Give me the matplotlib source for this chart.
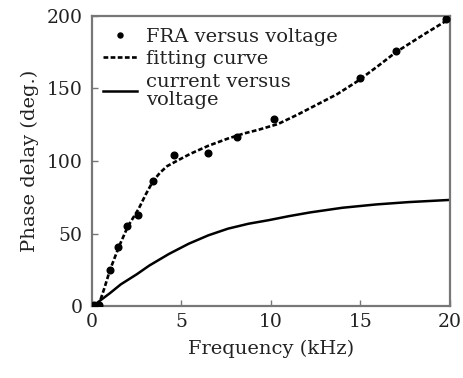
import numpy as np
import matplotlib
matplotlib.use('Agg')
import matplotlib.pyplot as plt

# measured points (FRA versus voltage)
fra_freq = [0.1, 0.4, 1.0, 1.45, 1.95, 2.58, 3.42, 4.6, 6.5, 8.1, 10.2, 15.0, 17.0, 19.8]
fra_phase = [0.5, 0.5, 24.7, 41.0, 55.5, 63.0, 86.4, 104.3, 105.6, 116.4, 129.2, 157.5, 176.0, 198.0]

# fitting curve
fit_freq = [0.35, 0.7, 1.0, 1.5, 2.0, 2.6, 3.0, 3.4, 3.8, 4.2, 4.8, 5.5, 6.5, 7.6, 8.5,
            9.3, 10.4, 11.5, 12.6, 13.7, 14.85, 16.0, 17.0, 18.6, 20.0]
fit_phase = [0.0, 13.0, 25.0, 41.0, 55.0, 67.0, 77.0, 86.0, 92.0, 96.5, 100.5, 105.0, 110.5,
             115.5, 119.0, 121.5, 125.5, 132.0, 139.0, 146.0, 155.0, 165.5, 175.0, 187.5, 198.0]

# current versus voltage
cur_freq = [0.3, 1.0, 1.6, 2.5, 3.2, 4.3, 5.4, 6.5, 7.6, 8.75, 9.9, 11.0, 12.2, 14.0,
            15.9, 17.7, 20.0]
cur_phase = [2.5, 9.0, 15.0, 22.0, 28.0, 36.0, 43.0, 48.8, 53.4, 56.8, 59.3, 62.0, 64.6, 67.8,
             70.1, 71.7, 73.2]

xticks = [0, 5, 10, 15, 20]
yticks = [0, 50, 100, 150, 200]

plt.rcParams['font.family'] = ['DejaVu Serif']

fig = plt.figure(figsize=(4.63, 3.78), dpi=100)
ax = fig.add_axes([0.199, 0.19, 0.772, 0.768])

ax.plot(fra_freq, fra_phase, 'o', color='k', ms=4.8, label='FRA versus voltage', zorder=4)
ax.plot(fit_freq, fit_phase, color='k', lw=1.9, ls=(0, (1.8, 0.9)), label='fitting curve')
ax.plot(cur_freq, cur_phase, color='k', lw=1.8, label='current versus\nvoltage')

ax.set_xlim(0, 20)
ax.set_ylim(0, 200)
ax.set_xticks(xticks)
ax.set_yticks(yticks)
ax.tick_params(direction='in', length=4, width=1.0, color='#777777', labelsize=13.5,
               labelcolor='#222222')
ax.tick_params(axis='x', pad=5)
ax.tick_params(axis='y', pad=7)
for spi in ['top', 'bottom', 'left', 'right']:
    ax.spines[spi].set_color('#777777')
    ax.spines[spi].set_linewidth(1.6)

ax.set_xlabel('Frequency (kHz)', fontsize=14, color='#222222', labelpad=6)
ax.set_ylabel('Phase delay (deg.)', fontsize=14, color='#222222', labelpad=5)

leg = ax.legend(loc='upper left', frameon=False, fontsize=14, handlelength=1.7,
                handletextpad=0.5, labelspacing=0.22, borderaxespad=0.0,
                bbox_to_anchor=(0.01, 0.985), numpoints=1, markerscale=0.75)
for t in leg.get_texts():
    t.set_color('#222222')
    t.set_linespacing(1.05)

plt.savefig('out.png', dpi=100)
plt.close()
